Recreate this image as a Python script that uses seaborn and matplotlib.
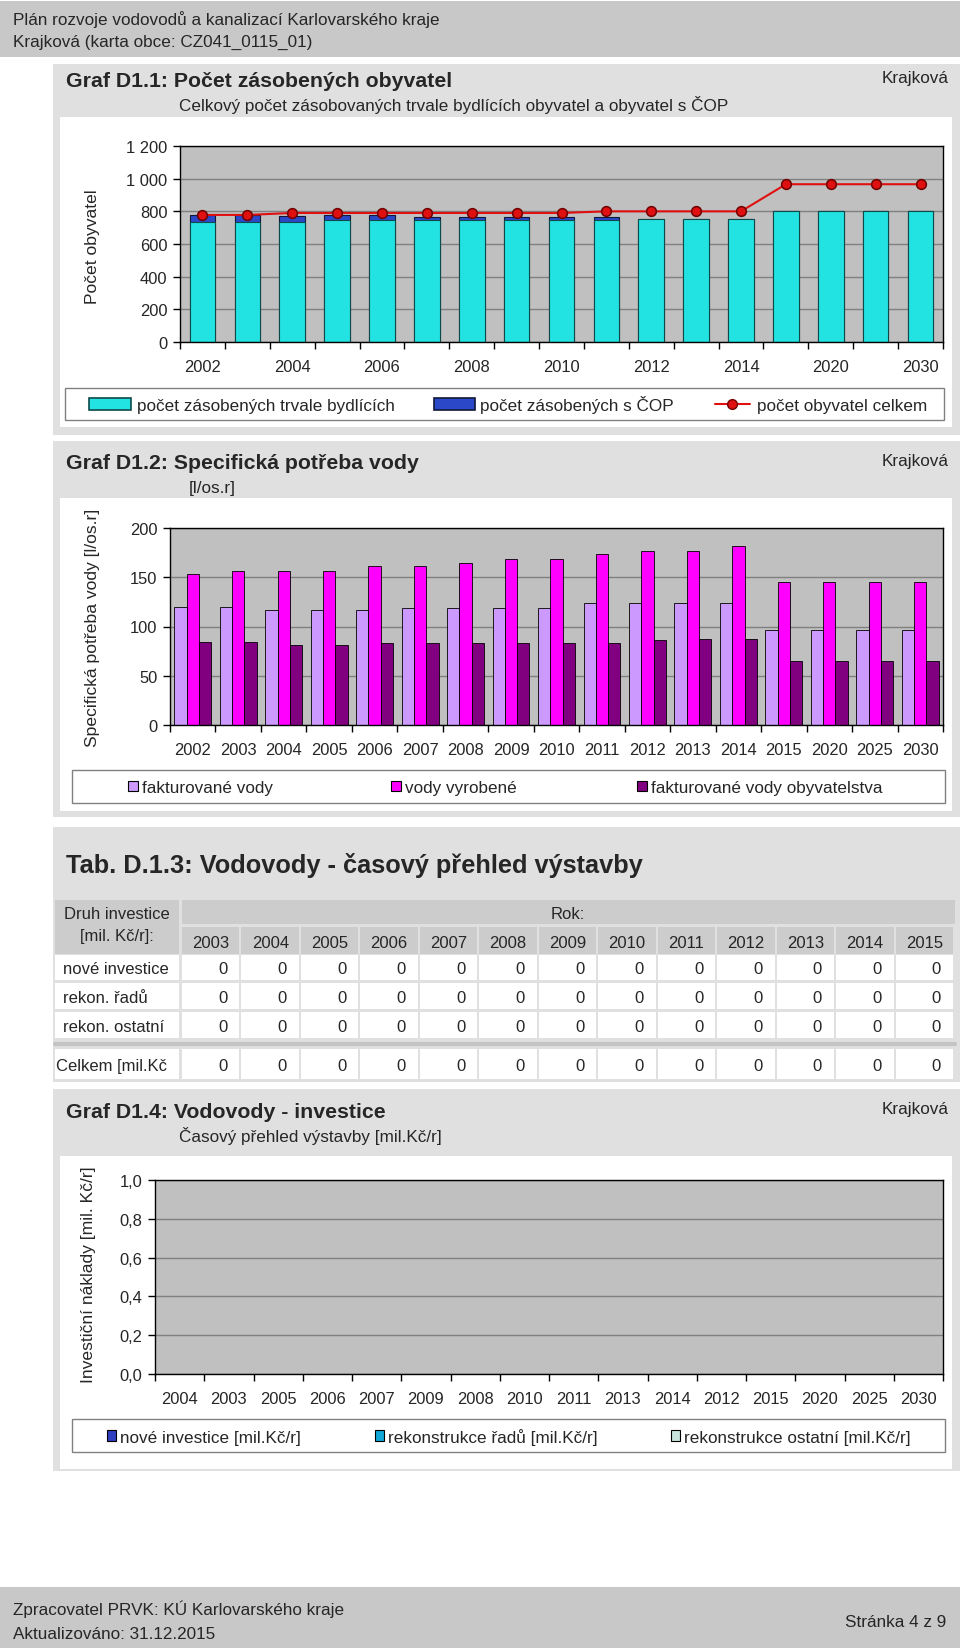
import numpy as np
import pandas as pd
import matplotlib
matplotlib.use("Agg")
import matplotlib.pyplot as plt
from matplotlib.patches import Rectangle
from matplotlib.lines import Line2D
from matplotlib.ticker import FuncFormatter, MultipleLocator
import seaborn as sns

# ---------- data
roky = ["2002", "2003", "2004", "2005", "2006", "2007", "2008", "2009", "2010",
        "2011", "2012", "2013", "2014", "2015", "2020", "2025", "2030"]

# graf D1.1
trvale = [735, 735, 735, 745, 745, 745, 745, 745, 745, 745, 755, 755, 755, 805, 805, 805, 805]
cop = [40, 40, 37, 30, 30, 20, 20, 20, 20, 20, 0, 0, 0, 0, 0, 0, 0]
celkem = [778, 778, 790, 790, 790, 790, 790, 790, 790, 800, 800, 800, 800, 966, 966, 966, 966]

# graf D1.2
fakt_vody = [120, 120, 117, 117, 117, 119, 119, 119, 119, 124, 124, 124, 124, 96, 96, 96, 96]
vody_vyrobene = [153, 156, 156, 156, 161, 161, 164, 169, 169, 174, 177, 177, 182, 145, 145, 145, 145]
fakt_obyv = [84.5, 84.5, 81.5, 81.5, 83, 83, 83, 83, 83, 83, 86, 87.5, 87.5, 65, 65, 65, 65]

# tab D.1.3
tab_roky = ["2003", "2004", "2005", "2006", "2007", "2008", "2009", "2010", "2011",
            "2012", "2013", "2014", "2015"]
tab_nove = [0, 0, 0, 0, 0, 0, 0, 0, 0, 0, 0, 0, 0]
tab_radu = [0, 0, 0, 0, 0, 0, 0, 0, 0, 0, 0, 0, 0]
tab_ostatni = [0, 0, 0, 0, 0, 0, 0, 0, 0, 0, 0, 0, 0]
tab_celkem = [0, 0, 0, 0, 0, 0, 0, 0, 0, 0, 0, 0, 0]

# graf D1.4
inv_roky = ["2004", "2003", "2005", "2006", "2007", "2009", "2008", "2010", "2011",
            "2013", "2014", "2012", "2015", "2020", "2025", "2030"]
inv_nove = [0, 0, 0, 0, 0, 0, 0, 0, 0, 0, 0, 0, 0, 0, 0, 0]
inv_radu = [0, 0, 0, 0, 0, 0, 0, 0, 0, 0, 0, 0, 0, 0, 0, 0]
inv_ostatni = [0, 0, 0, 0, 0, 0, 0, 0, 0, 0, 0, 0, 0, 0, 0, 0]

W, H = 960, 1649
FS = 12.3      # body text
TFS = 11.9     # tick labels
HFS = 15.3     # chart titles


def box(x0, y0, x1, y1):
    return [x0 / W, 1 - y1 / H, (x1 - x0) / W, (y1 - y0) / H]


sns.set_theme(style="white")
plt.rcParams["font.family"] = ["Liberation Sans", "DejaVu Sans"]

fig = plt.figure(figsize=(9.6, 16.49), dpi=100)
bg = fig.add_axes([0, 0, 1, 1])
bg.set_xlim(0, W)
bg.set_ylim(H, 0)
bg.axis("off")


def rect(x0, y0, x1, y1, fc, ec="none", lw=0, z=0):
    r = Rectangle((x0, y0), x1 - x0, y1 - y0, facecolor=fc, edgecolor=ec, linewidth=lw, zorder=z)
    bg.add_patch(r)
    return r


def txt(x, y, s, **kw):
    # y = middle of capital letters, text set on its baseline
    kw.setdefault("fontsize", FS)
    if "va" not in kw:
        kw["va"] = "baseline"
        y = y + 0.36 * kw["fontsize"] * 100 / 72
    return bg.text(x, y, s, **kw)


def style_axes(ax, n):
    ax.set_facecolor("#C0C0C0")
    ax.set_xlim(-0.5, n - 0.5)
    ax.set_xlabel("")
    ax.set_ylabel("")
    ax.set_axisbelow(True)
    ax.yaxis.grid(True, color="#808080", linewidth=1)
    ax.xaxis.grid(False)
    ax.set_xticks(np.arange(-0.5, n, 1), minor=True)
    ax.tick_params(axis="x", which="major", length=0, pad=12, labelsize=TFS, bottom=True)
    ax.tick_params(axis="x", which="minor", length=5, width=1, color="black", direction="out", bottom=True)
    ax.tick_params(axis="y", which="major", length=5, width=1, color="black", direction="out",
                   left=True, labelsize=TFS, pad=4)
    for s in ax.spines.values():
        s.set_color("black")
        s.set_linewidth(1)


# ---------- header / footer
rect(0, 2, 960, 58, "#C8C8C8")
txt(13, 19, "Plán rozvoje vodovodů a kanalizací Karlovarského kraje")
txt(13, 41, "Krajková (karta obce: CZ041_0115_01)")

rect(0, 1588, 960, 1649, "#C8C8C8")
txt(13, 1609, "Zpracovatel PRVK: KÚ Karlovarského kraje")
txt(13, 1633, "Aktualizováno: 31.12.2015")
txt(946, 1621, "Stránka 4 z 9", ha="right")

# ---------- graf D1.1
rect(53, 65, 960, 436, "#E0E0E0")
rect(60, 118, 952, 428, "white")
txt(66, 79, "Graf D1.1: Počet zásobených obyvatel", fontsize=HFS, fontweight="bold")
txt(179, 105, "Celkový počet zásobovaných trvale bydlících obyvatel a obyvatel s ČOP")
txt(949, 77, "Krajková", ha="right")

df1 = pd.DataFrame({"rok": roky, "trvale": trvale, "cop": cop, "celkem": celkem})
df1["zasobeno"] = df1["trvale"] + df1["cop"]

ax1 = fig.add_axes(box(180, 147, 943, 343))
sns.barplot(data=df1, x="rok", y="zasobeno", order=roky, color="#2A48C8", saturation=1,
            width=0.57, edgecolor="#101838", linewidth=0.8, ax=ax1)
sns.barplot(data=df1, x="rok", y="trvale", order=roky, color="#22E2E2", saturation=1,
            width=0.57, edgecolor="#0E4A4A", linewidth=0.8, ax=ax1)
sns.pointplot(data=df1, x="rok", y="celkem", order=roky, color="#E01010", markers="o",
              markersize=7, markeredgecolor="#700000", linewidth=1.5, errorbar=None, ax=ax1)
style_axes(ax1, len(roky))
ax1.set_ylim(0, 1200)
ax1.yaxis.set_major_locator(MultipleLocator(200))
ax1.yaxis.set_major_formatter(FuncFormatter(lambda v, p: f"{int(v):,}".replace(",", " ")))
ax1.set_xticks(range(0, len(roky), 2))
ax1.set_xticklabels(roky[::2])
txt(93, 247, "Počet obyvatel", rotation=90, ha="center", va="center", fontsize=12.6)

# legend
rect(65, 389, 944, 421, "white", ec="#808080", lw=1)
rect(89, 399, 131, 411, "#22E2E2", ec="#0E4A4A", lw=1.2, z=2)
txt(137, 405, "počet zásobených trvale bydlících")
rect(434, 399, 475, 411, "#2A48C8", ec="#101838", lw=1.2, z=2)
txt(480, 405, "počet zásobených s ČOP")
bg.add_line(Line2D([715, 750], [405, 405], color="#E01010", lw=1.5, zorder=2))
bg.add_line(Line2D([732], [405], marker="o", markersize=7, color="#E01010",
                   markeredgecolor="#700000", zorder=3))
txt(757, 405, "počet obyvatel celkem")

# ---------- graf D1.2
rect(53, 442, 960, 818, "#E0E0E0")
rect(60, 499, 952, 812, "white")
txt(66, 461, "Graf D1.2: Specifická potřeba vody", fontsize=HFS, fontweight="bold")
txt(189, 487, "[l/os.r]")
txt(949, 460, "Krajková", ha="right")

serie2 = ["fakturované vody", "vody vyrobené", "fakturované vody obyvatelstva"]
barvy2 = ["#CC99FF", "#FF00FF", "#800080"]
df2 = pd.DataFrame({
    "rok": roky * 3,
    "hodnota": fakt_vody + vody_vyrobene + fakt_obyv,
    "serie": [serie2[0]] * len(roky) + [serie2[1]] * len(roky) + [serie2[2]] * len(roky),
})

ax2 = fig.add_axes(box(170, 529, 943, 726))
sns.barplot(data=df2, x="rok", y="hodnota", hue="serie", order=roky, hue_order=serie2,
            palette=barvy2, saturation=1, width=0.81, edgecolor="black", linewidth=0.6,
            legend=False, ax=ax2)
style_axes(ax2, len(roky))
ax2.set_ylim(0, 200)
ax2.yaxis.set_major_locator(MultipleLocator(50))
ax2.yaxis.set_major_formatter(FuncFormatter(lambda v, p: f"{int(v)}"))
txt(93, 628, "Specifická potřeba vody [l/os.r]", rotation=90, ha="center", va="center", fontsize=12.6)

rect(72, 771, 945, 804, "white", ec="#808080", lw=1)
for x, lab, c in zip([128, 391, 637], serie2, barvy2):
    rect(x, 782, x + 10, 792, c, ec="black", lw=0.8, z=2)
    txt(x + 14, 787, lab)

# ---------- tab D.1.3
rect(53, 828, 960, 1083, "#E0E0E0")
txt(66, 864, "Tab. D.1.3: Vodovody - časový přehled výstavby", fontsize=18.3, fontweight="bold")

hdr = "#CCCCCC"
TBS = 12
cw = (955 - 182) / len(tab_roky)
rect(55, 901, 179, 955, hdr)
txt(117, 913, "Druh investice", ha="center", fontsize=TBS)
txt(117, 935, "[mil. Kč/r]:", ha="center", fontsize=TBS)
rect(182, 901, 955, 925, hdr)
txt(568, 913, "Rok:", ha="center", fontsize=TBS)
for i, r in enumerate(tab_roky):
    x0 = 182 + i * cw
    rect(x0, 928, x0 + cw - 2, 955, hdr)
    txt(x0 + cw / 2 - 1, 942, r, ha="center", fontsize=TBS)

radky = [("nové investice", tab_nove, 956, 981),
         ("rekon. řadů", tab_radu, 984, 1010),
         ("rekon. ostatní", tab_ostatni, 1013, 1039),
         ("Celkem [mil.Kč", tab_celkem, 1050, 1080)]
bg.add_line(Line2D([55, 955], [1044.5, 1044.5], color="#C4C4C4", lw=3, zorder=1))
for lab, vals, y0, y1 in radky:
    rect(55, y0, 179, y1, "white")
    lx = 56 if lab.startswith("Celkem") else 63
    txt(lx, (y0 + y1) / 2, lab, fontsize=TBS)
    for i, v in enumerate(vals):
        x0 = 182 + i * cw
        rect(x0, y0, x0 + cw - 2, y1, "white")
        txt(x0 + cw - 14, (y0 + y1) / 2, f"{v}", ha="right", fontsize=TBS)

# ---------- graf D1.4
rect(53, 1090, 960, 1472, "#E0E0E0")
rect(60, 1157, 952, 1470, "white")
txt(66, 1110, "Graf D1.4: Vodovody - investice", fontsize=HFS, fontweight="bold")
txt(179, 1136, "Časový přehled výstavby [mil.Kč/r]")
txt(949, 1108, "Krajková", ha="right")

serie4 = ["nové investice [mil.Kč/r]", "rekonstrukce řadů [mil.Kč/r]", "rekonstrukce ostatní [mil.Kč/r]"]
barvy4 = ["#2F3FC0", "#10A8D8", "#C8E4DC"]
df4 = pd.DataFrame({
    "rok": inv_roky * 3,
    "hodnota": inv_nove + inv_radu + inv_ostatni,
    "serie": [serie4[0]] * len(inv_roky) + [serie4[1]] * len(inv_roky) + [serie4[2]] * len(inv_roky),
})

ax4 = fig.add_axes(box(155, 1181, 943, 1375))
sns.barplot(data=df4, x="rok", y="hodnota", hue="serie", order=inv_roky, hue_order=serie4,
            palette=barvy4, saturation=1, width=0.8, linewidth=0, legend=False, ax=ax4)
style_axes(ax4, len(inv_roky))
ax4.set_ylim(0, 1)
ax4.yaxis.set_major_locator(MultipleLocator(0.2))
ax4.yaxis.set_major_formatter(FuncFormatter(lambda v, p: f"{v:.1f}".replace(".", ",")))

# label is cut off at the top like in the original
clip4 = rect(60, 1172, 952, 1470, "none")
yl4 = txt(89, 1383, "Investiční náklady [mil. Kč/r]", rotation=90, ha="center", va="bottom",
          fontsize=12.6)
yl4.set_clip_path(clip4)

rect(72, 1420, 945, 1453, "white", ec="#808080", lw=1)
for x, lab, c in zip([107, 375, 671], serie4, barvy4):
    rect(x, 1431, x + 9, 1442, c, ec="black", lw=0.8, z=2)
    txt(x + 13, 1436.5, lab)

fig.savefig("out.png", dpi=100)
